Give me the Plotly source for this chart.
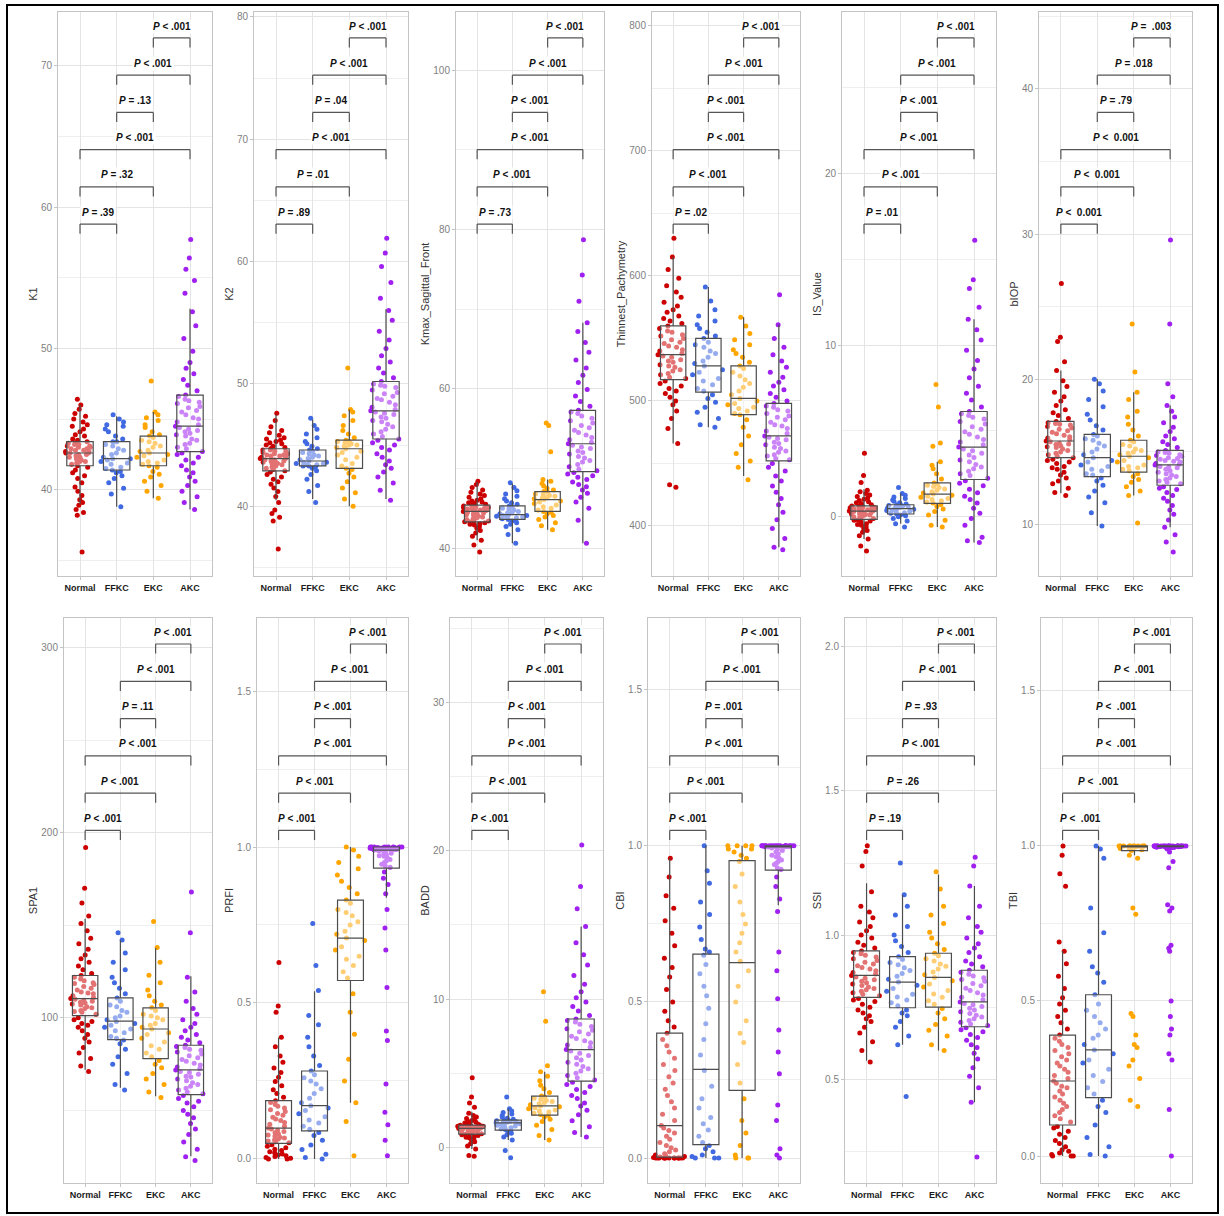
import plotly.graph_objects as go

CATS = ["Normal", "FFKC", "EKC", "AKC"]
COLORS = ["#CD0000", "#4169E1", "#FFA500", "#A020F0"]
TITLES = ["K1", "K2", "Kmax_Sagittal_Front", "Thinnest_Pachymetry", "IS_Value", "bIOP",
          "SPA1", "PRFI", "BADD", "CBI", "SSI", "TBI"]

# ---------------- K1 ----------------
k1_normal = [35.6, 38.2, 38.4, 38.6, 38.9, 39.1, 39.3, 39.6, 39.9, 40.2, 40.5, 40.8, 41.0, 41.2, 41.4, 41.6,
             41.7, 41.8, 41.9, 42.0, 42.0, 42.1, 42.2, 42.3, 42.3, 42.4, 42.5, 42.5, 42.6, 42.6, 42.6,
             42.7, 42.7, 42.8, 42.8, 42.9, 42.9, 43.0, 43.0, 43.1, 43.1, 43.2, 43.2, 43.3, 43.3, 43.4,
             43.5, 43.6, 43.8, 43.9, 44.1, 44.3, 44.5, 44.6, 44.8, 45.0, 45.2, 45.4, 45.7, 46.0, 46.4]
k1_ffkc = [38.8, 39.7, 40.1, 40.5, 40.8, 41.0, 41.2, 41.3, 41.4, 41.5, 41.6, 41.8, 41.9, 42.0, 42.1, 42.2, 42.2,
           42.3, 42.5, 42.6, 42.8, 42.9, 43.1, 43.2, 43.4, 43.4, 43.6, 43.8, 44.1, 44.3, 44.6, 44.8, 45.0, 45.3, 44.5]
k1_ekc = [39.4, 39.9, 40.3, 40.6, 40.9, 41.1, 41.3, 41.6, 41.7, 41.8, 41.9, 42.0, 42.1, 42.3, 42.4, 42.5, 42.6,
          42.7, 42.8, 43.0, 43.1, 43.3, 43.4, 43.5, 43.7, 43.8, 43.9, 44.1, 44.4, 44.6, 44.9, 45.1, 45.3, 45.5, 47.7]
k1_akc = [38.6, 39.1, 39.5, 39.9, 40.3, 40.6, 40.9, 41.2, 41.4, 41.7, 41.9, 42.1, 42.3, 42.5, 42.6,
          42.7, 42.9, 43.0, 43.2, 43.3, 43.5, 43.6, 43.8, 43.9, 44.0, 44.1, 44.2, 44.3, 44.4, 44.5,
          44.6, 44.8, 45.0, 45.1, 45.3, 45.5, 45.6, 45.8, 45.9, 46.1, 46.2, 46.3, 46.4, 46.6, 46.7,
          47.0, 47.4, 47.8, 48.2, 48.6, 49.0, 49.8, 50.7, 51.6, 52.6, 53.9, 54.8, 55.6, 56.4, 57.7]
k1_box = [[39.0, 38.8, 39.4, 38.6], [41.7, 41.4, 41.7, 42.7], [42.6, 42.2, 42.6, 44.5],
          [43.4, 43.4, 43.8, 46.7], [46.0, 45.2, 45.5, 52.8]]
k1_p = ["&lt; .001", "&lt; .001", "= .13", "&lt; .001", "= .32", "= .39"]

# ---------------- K2 ----------------
k2_normal = [36.5, 38.8, 39.1, 39.4, 39.7, 40.3, 40.8, 41.2, 41.5, 41.8, 42.0, 42.2, 42.4, 42.6, 42.8,
             42.9, 43.0, 43.1, 43.2, 43.3, 43.4, 43.5, 43.5, 43.6, 43.6, 43.7, 43.7, 43.8, 43.8, 43.9,
             43.9, 44.0, 44.0, 44.1, 44.1, 44.2, 44.2, 44.3, 44.3, 44.4, 44.5, 44.5, 44.6, 44.6, 44.7,
             44.8, 44.9, 45.0, 45.1, 45.2, 45.3, 45.4, 45.5, 45.6, 45.8, 46.0, 46.2, 46.5, 47.0, 47.6]
k2_ffkc = [40.3, 41.2, 41.7, 42.2, 42.6, 42.9, 43.1, 43.2, 43.3, 43.3, 43.4, 43.4, 43.5, 43.5, 43.6, 43.6, 43.7,
           43.8, 43.9, 44.0, 44.1, 44.2, 44.3, 44.4, 44.5, 44.6, 44.7, 44.9, 45.1, 45.3, 45.6, 45.9, 46.3, 46.6, 47.2]
k2_ekc = [40.0, 40.6, 41.1, 41.5, 42.0, 42.4, 42.7, 43.0, 43.1, 43.3, 43.5, 43.8, 44.0, 44.2, 44.4, 44.5, 44.7,
          44.8, 44.9, 45.0, 45.0, 45.1, 45.2, 45.3, 45.3, 45.4, 45.6, 45.9, 46.2, 46.6, 47.0, 47.4, 47.7, 47.9, 51.3]
k2_akc = [40.5, 41.3, 41.9, 42.4, 42.8, 43.1, 43.4, 43.7, 44.0, 44.3, 44.6, 44.8, 45.0, 45.2, 45.4,
          45.5, 45.7, 45.9, 46.1, 46.3, 46.5, 46.7, 46.9, 47.0, 47.2, 47.3, 47.5, 47.6, 47.7, 47.8,
          47.9, 48.1, 48.3, 48.5, 48.7, 48.8, 49.0, 49.2, 49.3, 49.5, 49.7, 49.8, 49.9, 50.0, 50.2,
          50.5, 50.9, 51.3, 51.8, 52.3, 52.9, 53.6, 54.3, 55.2, 56.0, 57.0, 58.3, 59.6, 60.7, 61.9]
k2_box = [[40.5, 40.6, 40.0, 40.6], [42.9, 43.3, 43.1, 45.5], [43.9, 43.7, 44.7, 47.8],
          [44.7, 44.6, 45.4, 50.2], [47.5, 47.1, 47.9, 56.1]]
k2_p = ["&lt; .001", "&lt; .001", "= .04", "&lt; .001", "= .01", "= .89"]

# ---------------- Kmax_Sagittal_Front ----------------
kmax_normal = [39.5, 40.4, 41.0, 41.5, 41.9, 42.2, 42.5, 42.7, 42.9, 43.0, 43.1, 43.2, 43.2, 43.3, 43.3,
               43.4, 43.5, 43.6, 43.7, 43.8, 43.9, 44.0, 44.1, 44.2, 44.3, 44.3, 44.4, 44.5, 44.5, 44.6,
               44.7, 44.7, 44.8, 44.8, 44.9, 44.9, 45.0, 45.0, 45.1, 45.1, 45.2, 45.2, 45.3, 45.3, 45.4,
               45.5, 45.6, 45.7, 45.8, 45.9, 46.0, 46.2, 46.4, 46.6, 46.8, 47.0, 47.3, 47.6, 48.0, 48.4]
kmax_ffkc = [40.6, 41.7, 42.3, 42.7, 43.0, 43.2, 43.4, 43.5, 43.6, 43.7, 43.8, 43.9, 43.9, 44.0, 44.1, 44.1, 44.2,
             44.3, 44.4, 44.5, 44.6, 44.8, 44.9, 45.0, 45.2, 45.3, 45.5, 45.7, 45.9, 46.2, 46.5, 46.8, 47.2, 47.6, 48.2]
kmax_ekc = [42.3, 42.8, 43.2, 43.6, 43.9, 44.1, 44.3, 44.5, 44.6, 44.8, 45.0, 45.2, 45.4, 45.6, 45.8, 45.9, 46.1,
            46.2, 46.3, 46.4, 46.5, 46.6, 46.7, 46.8, 47.0, 47.1, 47.3, 47.5, 47.8, 48.1, 48.4, 48.6, 52.1, 55.4, 55.7]
kmax_akc = [40.6, 43.5, 45.0, 45.8, 46.4, 46.9, 47.3, 47.7, 48.0, 48.3, 48.6, 48.9, 49.1, 49.3, 49.5,
            49.7, 49.9, 50.2, 50.5, 50.8, 51.0, 51.3, 51.5, 51.8, 52.0, 52.2, 52.5, 52.7, 52.9, 53.1,
            53.3, 53.6, 53.9, 54.2, 54.5, 54.8, 55.1, 55.4, 55.7, 56.0, 56.3, 56.6, 56.9, 57.1, 57.3,
            57.8, 58.4, 59.1, 59.9, 60.8, 61.7, 62.6, 63.6, 64.6, 65.8, 67.2, 68.3, 71.0, 74.3, 78.7]
kmax_box = [[41.0, 40.6, 42.3, 40.6], [43.3, 43.6, 44.6, 49.6], [44.6, 44.2, 46.1, 53.1],
            [45.4, 45.3, 47.1, 57.3], [48.3, 48.1, 48.6, 68.3]]
kmax_p = ["&lt; .001", "&lt; .001", "&lt; .001", "&lt; .001", "&lt; .001", "= .73"]

# ---------------- Thinnest_Pachymetry ----------------
thin_normal = [431, 433, 466, 478, 486, 492, 497, 500, 503, 506, 508, 510, 512, 514, 516,
               518, 519, 521, 522, 524, 525, 527, 528, 529, 531, 532, 533, 535, 536, 537,
               538, 540, 541, 543, 544, 546, 547, 549, 550, 552, 553, 555, 556, 558, 560,
               562, 564, 566, 568, 571, 573, 576, 579, 583, 587, 592, 598, 605, 615, 630]
thin_ffkc = [479, 481, 486, 491, 495, 499, 502, 505, 508, 510, 513, 516, 518, 521, 523, 525, 528,
             530, 532, 535, 538, 540, 543, 545, 547, 550, 552, 555, 558, 561, 564, 568, 573, 580, 591]
thin_ekc = [437, 447, 452, 458, 465, 472, 479, 485, 489, 490, 492, 494, 495, 497, 498, 500, 502,
            505, 508, 511, 514, 517, 520, 523, 526, 528, 531, 535, 538, 541, 545, 549, 554, 560, 567]
thin_akc = [381, 383, 390, 398, 405, 411, 417, 422, 427, 432, 436, 440, 444, 447, 450,
            453, 454, 456, 457, 459, 460, 462, 463, 465, 466, 467, 469, 470, 471, 472,
            474, 476, 478, 480, 481, 483, 485, 487, 488, 490, 492, 493, 495, 496, 498,
            500, 503, 506, 509, 512, 515, 519, 523, 527, 532, 537, 543, 550, 561, 585]
thin_box = [[466, 479, 440, 383], [517, 507, 489, 452], [537, 528, 502, 472],
            [560, 550, 528, 498], [615, 591, 567, 561]]
thin_p = ["&lt; .001", "&lt; .001", "&lt; .001", "&lt; .001", "&lt; .001", "= .02"]

# ---------------- IS_Value ----------------
is_normal = [-2.0, -1.7, -1.3, -1.1, -0.9, -0.8, -0.7, -0.6, -0.5, -0.45, -0.4, -0.3, -0.25, -0.2, -0.17,
             -0.1, -0.05, 0.0, 0.05, 0.08, 0.1, 0.13, 0.15, 0.18, 0.2, 0.23, 0.25, 0.28, 0.3, 0.33,
             0.35, 0.37, 0.39, 0.41, 0.43, 0.45, 0.47, 0.49, 0.51, 0.53, 0.55, 0.57, 0.59, 0.62, 0.64,
             0.7, 0.76, 0.82, 0.88, 0.95, 1.02, 1.1, 1.18, 1.27, 1.36, 1.45, 1.55, 2.0, 2.4, 3.7]
is_ffkc = [-0.6, -0.4, -0.25, -0.1, 0.0, 0.06, 0.1, 0.14, 0.17, 0.2, 0.24, 0.28, 0.32, 0.36, 0.4, 0.44, 0.48,
           0.5, 0.53, 0.56, 0.58, 0.61, 0.63, 0.65, 0.68, 0.7, 0.75, 0.82, 0.9, 0.98, 1.06, 1.15, 1.25, 1.35, 1.7]
is_ekc = [-0.6, -0.5, -0.2, 0.1, 0.3, 0.45, 0.6, 0.72, 0.8, 0.86, 0.93, 1.0, 1.06, 1.13, 1.2, 1.26, 1.32,
          1.38, 1.46, 1.54, 1.62, 1.7, 1.77, 1.84, 1.9, 1.97, 2.2, 2.5, 2.8, 3.0, 3.2, 4.1, 4.3, 6.4, 7.7]
is_akc = [-1.5, -1.4, -1.2, -0.5, -0.1, 0.2, 0.5, 0.8, 1.0, 1.2, 1.4, 1.6, 1.8, 1.95, 2.1,
          2.25, 2.4, 2.5, 2.65, 2.8, 2.9, 3.05, 3.2, 3.3, 3.45, 3.6, 3.7, 3.85, 3.95, 4.06,
          4.2, 4.35, 4.5, 4.65, 4.8, 4.95, 5.1, 5.25, 5.4, 5.55, 5.7, 5.8, 5.9, 6.0, 6.13,
          6.4, 6.8, 7.2, 7.6, 8.1, 8.6, 9.1, 9.7, 10.3, 10.9, 11.5, 12.2, 13.3, 13.8, 16.1]
is_box = [[-1.3, -0.4, -0.6, -1.5], [-0.15, 0.16, 0.78, 2.17], [0.33, 0.48, 1.32, 4.06],
          [0.64, 0.7, 1.97, 6.13], [1.6, 1.35, 3.2, 11.5]]
is_p = ["&lt; .001", "&lt; .001", "&lt; .001", "&lt; .001", "&lt; .001", "= .01"]

# ---------------- bIOP ----------------
biop_normal = [12.0, 12.2, 12.5, 12.8, 13.0, 13.2, 13.4, 13.6, 13.8, 13.9, 14.0, 14.2, 14.3, 14.4, 14.5,
               14.6, 14.7, 14.8, 14.9, 15.0, 15.1, 15.2, 15.3, 15.35, 15.4, 15.5, 15.55, 15.6, 15.7, 15.75,
               15.85, 15.95, 16.05, 16.15, 16.25, 16.35, 16.45, 16.55, 16.65, 16.75, 16.85, 16.9, 16.95, 17.0, 17.1,
               17.3, 17.5, 17.7, 17.9, 18.2, 18.5, 18.8, 19.1, 19.5, 19.9, 20.6, 21.2, 22.6, 22.9, 26.6]
biop_ffkc = [9.9, 10.8, 11.5, 11.9, 12.3, 12.7, 13.0, 13.2, 13.4, 13.5, 13.7, 13.8, 14.0, 14.1, 14.3, 14.4, 14.6,
             14.8, 15.0, 15.2, 15.4, 15.6, 15.8, 15.9, 16.1, 16.2, 16.5, 16.8, 17.2, 17.6, 18.1, 18.6, 19.2, 19.7, 20.0]
biop_ekc = [10.1, 12.0, 12.3, 12.6, 12.9, 13.1, 13.3, 13.5, 13.7, 13.8, 13.9, 14.0, 14.1, 14.3, 14.4, 14.6, 14.7,
            14.8, 14.9, 15.0, 15.1, 15.2, 15.4, 15.5, 15.7, 15.8, 16.1, 16.5, 16.9, 17.4, 17.8, 18.6, 19.1, 20.5, 23.8]
biop_akc = [8.1, 8.8, 9.3, 9.8, 10.3, 10.7, 11.0, 11.3, 11.6, 11.8, 12.0, 12.2, 12.4, 12.5, 12.6,
            12.8, 12.9, 13.0, 13.1, 13.2, 13.3, 13.4, 13.5, 13.6, 13.7, 13.8, 13.9, 13.95, 14.0, 14.1,
            14.15, 14.2, 14.3, 14.35, 14.4, 14.5, 14.55, 14.6, 14.7, 14.75, 14.8, 14.9, 14.95, 15.0, 15.1,
            15.3, 15.5, 15.7, 15.9, 16.1, 16.4, 16.7, 17.0, 17.4, 17.8, 18.2, 18.8, 19.7, 23.8, 29.6]
biop_box = [[12.15, 9.9, 12.0, 9.8], [14.6, 13.3, 13.6, 12.7], [15.75, 14.6, 14.7, 14.1],
            [17.1, 16.2, 15.8, 15.1], [20.6, 20.0, 19.1, 18.2]]
biop_p = ["=&nbsp; .003", "= .018", "= .79", "&lt;&nbsp; 0.001", "&lt;&nbsp; 0.001", "&lt;&nbsp; 0.001"]

# ---------------- SPA1 ----------------
spa1_normal = [71, 74, 78, 81, 84, 87, 89, 91, 93, 95, 96, 97, 98, 99, 100,
               102, 103, 103.5, 104, 105, 105.5, 106, 107, 107.5, 108, 108.5, 109, 109.5, 110, 110.4,
               111, 112, 113, 113.5, 114, 115, 116, 117, 118, 118.5, 119, 120, 121, 122, 122.9,
               124, 126, 128, 130, 132, 134, 137, 140, 143, 147, 151, 155, 162, 170, 192]
spa1_ffkc = [61, 64, 70, 75, 79, 83, 86, 88, 89, 90, 92, 93, 94, 95, 96, 97, 98,
             99, 100, 101, 103, 104, 106, 107, 109, 110.8, 113, 116, 119, 122, 126, 130, 135, 142, 146]
spa1_ekc = [57, 60, 64, 67, 70, 73, 75, 77, 79, 81, 83, 85, 87, 89, 91, 92, 94,
            95, 96, 97, 99, 100, 101, 102, 104, 105.4, 107, 109, 112, 115, 119, 123, 130, 138, 152]
spa1_akc = [23, 25, 29, 33, 37, 40, 43, 46, 48, 50, 52, 54, 55, 56.5, 58,
            59, 60, 61, 62, 63, 64, 65, 66, 67, 68, 68.5, 69.5, 70.5, 71, 71.9,
            72.5, 73.5, 74.5, 75.5, 76.5, 77.5, 78.5, 79.5, 80.5, 81.5, 82.5, 83, 84, 84.5, 85.2,
            86.5, 88, 89.5, 91, 93, 95, 97, 99, 102, 105, 109, 114, 122, 146, 168]
spa1_box = [[72, 62.2, 57.6, 25.2], [101.2, 88.3, 78, 58.5], [110.4, 98.2, 94, 71.9],
            [122.9, 110.8, 105.4, 85.2], [153.5, 142, 137.8, 122.5]]
spa1_p = ["&lt; .001", "&lt; .001", "= .11", "&lt; .001", "&lt; .001", "&lt; .001"]

# ---------------- PRFI ----------------
prfi_normal = [0.0, 0.0, 0.002, 0.005, 0.008, 0.01, 0.013, 0.016, 0.02, 0.023, 0.027, 0.031, 0.036, 0.041, 0.046,
               0.052, 0.055, 0.058, 0.061, 0.064, 0.067, 0.07, 0.073, 0.077, 0.08, 0.084, 0.088, 0.092, 0.096, 0.099,
               0.105, 0.111, 0.117, 0.123, 0.128, 0.134, 0.14, 0.146, 0.152, 0.158, 0.163, 0.169, 0.175, 0.181, 0.187,
               0.198, 0.21, 0.222, 0.235, 0.248, 0.262, 0.277, 0.292, 0.31, 0.33, 0.36, 0.39, 0.47, 0.49, 0.63]
prfi_ffkc = [0.0, 0.005, 0.015, 0.03, 0.045, 0.06, 0.075, 0.085, 0.095, 0.105, 0.115, 0.125, 0.135, 0.145, 0.155, 0.163, 0.171,
             0.18, 0.195, 0.21, 0.225, 0.24, 0.25, 0.26, 0.27, 0.282, 0.3, 0.33, 0.36, 0.39, 0.43, 0.46, 0.54, 0.62, 0.755]
prfi_ekc = [0.01, 0.12, 0.18, 0.25, 0.32, 0.4, 0.47, 0.53, 0.58, 0.6, 0.62, 0.64, 0.65, 0.67, 0.68, 0.7, 0.708,
            0.72, 0.73, 0.75, 0.76, 0.78, 0.79, 0.8, 0.82, 0.83, 0.85, 0.87, 0.89, 0.91, 0.93, 0.95, 0.97, 0.99, 1.0]
prfi_akc = [0.01, 0.06, 0.11, 0.15, 0.24, 0.38, 0.41, 0.55, 0.67, 0.74, 0.8, 0.85, 0.88, 0.9, 0.92,
            0.935, 0.94, 0.945, 0.95, 0.955, 0.96, 0.965, 0.97, 0.972, 0.975, 0.978, 0.98, 0.984, 0.987, 0.99,
            0.991, 0.992, 0.993, 0.994, 0.995, 0.996, 0.997, 0.998, 0.999, 1.0, 0.991, 0.992, 0.993, 0.994, 0.995,
            0.996, 0.997, 0.998, 0.999, 1.0, 0.992, 0.994, 0.996, 0.998, 1.0, 1.0, 1.0, 1.0, 1.0, 1.0]
prfi_box = [[0.0, 0.0, 0.18, 0.837], [0.05, 0.09, 0.572, 0.932], [0.099, 0.171, 0.708, 0.99],
            [0.187, 0.282, 0.83, 1.0], [0.389, 0.538, 1.0, 1.0]]
prfi_p = ["&lt; .001", "&lt; .001", "&lt; .001", "&lt; .001", "&lt; .001", "&lt; .001"]

# ---------------- BADD ----------------
badd_normal = [-0.6, -0.55, -0.1, 0.1, 0.25, 0.38, 0.48, 0.56, 0.63, 0.68, 0.73, 0.77, 0.81, 0.85, 0.88,
               0.92, 0.95, 0.98, 1.0, 1.03, 1.06, 1.08, 1.11, 1.13, 1.16, 1.18, 1.21, 1.23, 1.26, 1.28,
               1.3, 1.31, 1.33, 1.34, 1.36, 1.37, 1.39, 1.4, 1.42, 1.43, 1.45, 1.46, 1.47, 1.49, 1.5,
               1.55, 1.6, 1.65, 1.7, 1.76, 1.82, 1.88, 1.95, 2.05, 2.15, 2.3, 2.7, 3.0, 3.4, 4.7]
badd_ffkc = [-0.7, -0.2, 0.5, 0.7, 0.85, 0.95, 1.05, 1.12, 1.2, 1.26, 1.32, 1.38, 1.44, 1.5, 1.55, 1.6, 1.66,
             1.68, 1.7, 1.72, 1.74, 1.76, 1.78, 1.8, 1.82, 1.84, 1.9, 1.97, 2.05, 2.15, 2.25, 2.35, 2.45, 2.6, 3.4]
badd_ekc = [0.5, 0.8, 1.2, 1.5, 1.75, 1.9, 2.05, 2.15, 2.22, 2.3, 2.38, 2.45, 2.52, 2.6, 2.67, 2.74, 2.8,
            2.88, 2.95, 3.02, 3.1, 3.17, 3.24, 3.31, 3.38, 3.46, 3.7, 3.95, 4.2, 4.5, 4.8, 5.1, 5.5, 8.5, 10.5]
badd_akc = [0.7, 1.0, 1.4, 1.8, 2.2, 2.5, 2.8, 3.0, 3.3, 3.5, 3.7, 3.9, 4.1, 4.25, 4.4,
            4.55, 4.7, 4.85, 5.0, 5.15, 5.3, 5.45, 5.6, 5.75, 5.9, 6.05, 6.2, 6.35, 6.5, 6.6,
            6.75, 6.9, 7.05, 7.2, 7.35, 7.5, 7.65, 7.8, 7.9, 8.0, 8.15, 8.3, 8.45, 8.55, 8.66,
            8.9, 9.2, 9.5, 9.8, 10.1, 10.5, 11.0, 11.6, 12.3, 13.0, 13.8, 14.9, 16.1, 17.6, 20.4]
badd_box = [[-0.1, 0.5, 0.5, 0.7], [0.9, 1.17, 2.18, 4.47], [1.28, 1.66, 2.8, 6.6],
            [1.5, 1.84, 3.46, 8.66], [2.4, 2.6, 5.1, 14.9]]
badd_p = ["&lt; .001", "&lt; .001", "&lt; .001", "&lt; .001", "&lt; .001", "&lt; .001"]

# ---------------- CBI ----------------
cbi_normal = [0.0, 0.0, 0.0, 0.0, 0.0, 0.0, 0.0, 0.0, 0.0, 0.0, 0.0, 0.0, 0.0, 0.002, 0.003,
              0.005, 0.008, 0.01, 0.014, 0.02, 0.026, 0.033, 0.04, 0.05, 0.06, 0.07, 0.08, 0.088, 0.096, 0.104,
              0.12, 0.14, 0.16, 0.18, 0.2, 0.22, 0.24, 0.26, 0.28, 0.3, 0.32, 0.34, 0.36, 0.38, 0.4,
              0.42, 0.44, 0.47, 0.5, 0.54, 0.58, 0.61, 0.64, 0.68, 0.72, 0.76, 0.8, 0.84, 0.9, 0.96]
cbi_ffkc = [0.0, 0.0, 0.0, 0.005, 0.01, 0.02, 0.03, 0.04, 0.05, 0.07, 0.09, 0.11, 0.13, 0.16, 0.19, 0.23, 0.28,
            0.33, 0.38, 0.43, 0.48, 0.52, 0.55, 0.59, 0.62, 0.65, 0.66, 0.67, 0.7, 0.74, 0.78, 0.82, 0.88, 0.92, 1.0]
cbi_ekc = [0.0, 0.0, 0.0, 0.01, 0.04, 0.08, 0.12, 0.19, 0.24, 0.3, 0.37, 0.4, 0.44, 0.5, 0.55, 0.6, 0.63,
           0.66, 0.69, 0.72, 0.75, 0.78, 0.82, 0.87, 0.91, 0.95, 0.96, 0.97, 0.98, 0.99, 0.99, 1.0, 1.0, 1.0, 1.0]
cbi_akc = [0.0, 0.01, 0.03, 0.12, 0.17, 0.27, 0.34, 0.41, 0.51, 0.6, 0.66, 0.79, 0.83, 0.87, 0.9,
           0.925, 0.93, 0.94, 0.945, 0.95, 0.955, 0.96, 0.965, 0.97, 0.975, 0.98, 0.985, 0.99, 0.993, 0.996,
           0.997, 0.998, 0.999, 1.0, 0.997, 0.998, 0.999, 1.0, 0.997, 0.998, 0.999, 1.0, 0.998, 0.999, 1.0,
           0.998, 0.999, 1.0, 1.0, 1.0, 1.0, 1.0, 1.0, 1.0, 1.0, 1.0, 1.0, 1.0, 1.0, 1.0]
cbi_box = [[0.0, 0.0, 0.0, 0.81], [0.003, 0.043, 0.217, 0.922], [0.104, 0.284, 0.626, 0.998],
           [0.4, 0.653, 0.953, 1.0], [0.96, 1.0, 1.0, 1.0]]
cbi_p = ["&lt; .001", "&lt; .001", "= .001", "&lt; .001", "&lt; .001", "&lt; .001"]

# ---------------- SSI ----------------
ssi_normal = [0.56, 0.6, 0.63, 0.66, 0.68, 0.7, 0.71, 0.72, 0.73, 0.74, 0.75, 0.76, 0.77, 0.775, 0.78,
              0.79, 0.795, 0.8, 0.805, 0.81, 0.815, 0.82, 0.825, 0.83, 0.835, 0.84, 0.845, 0.85, 0.855, 0.86,
              0.865, 0.87, 0.876, 0.882, 0.888, 0.894, 0.9, 0.906, 0.912, 0.918, 0.924, 0.93, 0.935, 0.94, 0.945,
              0.955, 0.965, 0.975, 0.99, 1.0, 1.015, 1.03, 1.045, 1.06, 1.08, 1.1, 1.15, 1.24, 1.29, 1.31]
ssi_ffkc = [0.44, 0.62, 0.65, 0.68, 0.7, 0.72, 0.73, 0.74, 0.755, 0.765, 0.775, 0.785, 0.795, 0.805, 0.815, 0.826, 0.837,
            0.847, 0.857, 0.867, 0.877, 0.887, 0.897, 0.905, 0.915, 0.925, 0.94, 0.96, 0.98, 1.0, 1.03, 1.07, 1.1, 1.14, 1.25]
ssi_ekc = [0.6, 0.62, 0.65, 0.67, 0.69, 0.71, 0.73, 0.745, 0.76, 0.772, 0.784, 0.796, 0.808, 0.82, 0.83, 0.842, 0.853,
           0.862, 0.872, 0.882, 0.892, 0.9, 0.91, 0.918, 0.928, 0.937, 0.95, 0.97, 0.99, 1.01, 1.04, 1.07, 1.1, 1.16, 1.22]
ssi_akc = [0.23, 0.42, 0.47, 0.51, 0.54, 0.57, 0.59, 0.61, 0.62, 0.635, 0.645, 0.655, 0.665, 0.672, 0.679,
           0.686, 0.692, 0.698, 0.704, 0.71, 0.716, 0.722, 0.728, 0.734, 0.74, 0.746, 0.752, 0.758, 0.763, 0.768,
           0.776, 0.784, 0.792, 0.8, 0.808, 0.816, 0.824, 0.832, 0.84, 0.846, 0.852, 0.858, 0.864, 0.871, 0.878,
           0.89, 0.9, 0.91, 0.925, 0.94, 0.955, 0.97, 0.99, 1.01, 1.03, 1.06, 1.1, 1.17, 1.24, 1.27]
ssi_box = [[0.564, 0.62, 0.6, 0.42], [0.784, 0.748, 0.75, 0.682], [0.86, 0.837, 0.853, 0.768],
           [0.945, 0.925, 0.937, 0.878], [1.18, 1.14, 1.21, 1.17]]
ssi_p = ["&lt; .001", "&lt; .001", "= .93", "&lt; .001", "= .26", "= .19"]

# ---------------- TBI ----------------
tbi_normal = [0.0, 0.0, 0.0, 0.005, 0.01, 0.015, 0.02, 0.03, 0.04, 0.05, 0.06, 0.07, 0.08, 0.09, 0.095,
              0.11, 0.12, 0.13, 0.14, 0.15, 0.16, 0.17, 0.18, 0.19, 0.2, 0.21, 0.22, 0.225, 0.235, 0.242,
              0.25, 0.26, 0.27, 0.28, 0.29, 0.3, 0.31, 0.32, 0.33, 0.34, 0.35, 0.36, 0.37, 0.38, 0.39,
              0.41, 0.43, 0.45, 0.47, 0.49, 0.51, 0.54, 0.58, 0.62, 0.66, 0.69, 0.87, 0.91, 0.97, 1.0]
tbi_ffkc = [0.0, 0.005, 0.03, 0.06, 0.1, 0.14, 0.16, 0.18, 0.2, 0.22, 0.24, 0.26, 0.28, 0.3, 0.31, 0.33, 0.342,
            0.36, 0.38, 0.39, 0.41, 0.43, 0.45, 0.47, 0.49, 0.52, 0.56, 0.59, 0.61, 0.66, 0.72, 0.8, 0.96, 0.99, 1.0]
tbi_ekc = [0.16, 0.18, 0.25, 0.29, 0.31, 0.35, 0.36, 0.39, 0.45, 0.46, 0.78, 0.8, 0.96, 0.97,
           0.985, 0.988, 0.99, 0.992, 0.994, 0.995, 0.996, 0.997, 0.998, 0.999, 1.0,
           1.0, 1.0, 1.0, 1.0, 1.0, 1.0, 1.0, 1.0, 1.0, 1.0]
tbi_akc = [0.0, 0.15, 0.31, 0.33, 0.39, 0.41, 0.45, 0.5, 0.66, 0.67, 0.68, 0.79, 0.8, 0.81, 0.93, 0.95, 0.98,
           0.99, 0.992, 0.994, 0.995, 0.996, 0.997, 0.998, 0.999, 1.0, 0.995, 0.996, 0.997, 0.998, 0.999, 1.0,
           0.997, 0.998, 0.999, 1.0, 0.998, 0.999, 1.0, 0.999, 1.0, 1.0, 1.0, 1.0, 1.0, 1.0, 1.0, 1.0,
           1.0, 1.0, 1.0, 1.0, 1.0, 1.0, 1.0, 1.0, 1.0, 1.0, 1.0, 1.0]
tbi_box = [[0.0, 0.0, 0.97, 0.995], [0.10, 0.188, 0.985, 0.998], [0.242, 0.342, 1.0, 1.0],
           [0.39, 0.52, 1.0, 1.0], [0.661, 1.0, 1.0, 1.0]]
tbi_p = ["&lt; .001", "&lt;&nbsp; .001", "&lt;&nbsp; .001", "&lt;&nbsp; .001", "&lt;&nbsp; .001", "&lt;&nbsp; .001"]

GROUPS = [
    [k1_normal, k1_ffkc, k1_ekc, k1_akc],
    [k2_normal, k2_ffkc, k2_ekc, k2_akc],
    [kmax_normal, kmax_ffkc, kmax_ekc, kmax_akc],
    [thin_normal, thin_ffkc, thin_ekc, thin_akc],
    [is_normal, is_ffkc, is_ekc, is_akc],
    [biop_normal, biop_ffkc, biop_ekc, biop_akc],
    [spa1_normal, spa1_ffkc, spa1_ekc, spa1_akc],
    [prfi_normal, prfi_ffkc, prfi_ekc, prfi_akc],
    [badd_normal, badd_ffkc, badd_ekc, badd_akc],
    [cbi_normal, cbi_ffkc, cbi_ekc, cbi_akc],
    [ssi_normal, ssi_ffkc, ssi_ekc, ssi_akc],
    [tbi_normal, tbi_ffkc, tbi_ekc, tbi_akc],
]
BOXES = [k1_box, k2_box, kmax_box, thin_box, is_box, biop_box,
         spa1_box, prfi_box, badd_box, cbi_box, ssi_box, tbi_box]
PVALS = [k1_p, k2_p, kmax_p, thin_p, is_p, biop_p, spa1_p, prfi_p, badd_p, cbi_p, ssi_p, tbi_p]
# comparison pairs (category indices), top bracket first
PAIRS = [(2, 3), (1, 3), (1, 2), (0, 3), (0, 2), (0, 1)]

# ---------------- layout settings ----------------
W, H = 1224, 1216
X_PX = [(58, 212), (254, 408), (456, 604), (652, 800), (842, 996), (1039, 1192),
        (64, 212), (257, 408), (450, 603), (648, 800), (845, 996), (1041, 1192)]
Y_PX = [(12, 576)] * 6 + [(618, 1183)] * 6
Y_RANGES = [[33.9, 73.8], [34.3, 80.4], [36.5, 107.3], [360, 811], [-3.45, 29.4], [6.45, 45.3],
            [10.8, 316], [-0.077, 1.734], [-2.4, 35.7], [-0.08, 1.73], [0.14, 2.10], [-0.087, 1.735]]
Y_DTICK = [10, 10, 20, 100, 10, 10, 100, 0.5, 10, 0.5, 0.5, 0.5]
Y_FMT = ["", "", "", "", "", "", "", ".1f", "", ".1f", ".1f", ".1f"]

FONT = "Liberation Sans, Arial, sans-serif"
GRID = "#e4e4e4"
MINOR = "#efefef"
BORDER = "#c4c4c4"

fig = go.Figure()
layout = dict(
    width=W, height=H, margin=dict(l=0, r=0, t=0, b=0),
    paper_bgcolor="white", plot_bgcolor="white",
    showlegend=False, boxmode="overlay", font=dict(family=FONT),
    shapes=[], annotations=[],
)

for i in range(12):
    n = i + 1
    xa = "x" if n == 1 else f"x{n}"
    ya = "y" if n == 1 else f"y{n}"
    xkey = "xaxis" if n == 1 else f"xaxis{n}"
    ykey = "yaxis" if n == 1 else f"yaxis{n}"

    # jittered points
    for g in range(4):
        vals = GROUPS[i][g]
        fig.add_trace(go.Box(
            x=[CATS[g]] * len(vals), y=vals, xaxis=xa, yaxis=ya,
            boxpoints="all", jitter=1, pointpos=0, width=0.92,
            fillcolor="rgba(0,0,0,0)", line=dict(width=0, color="rgba(0,0,0,0)"),
            marker=dict(color=COLORS[g], size=5, opacity=1),
            hoverinfo="skip",
        ))
    # box summary on top
    lo, q1, med, q3, hi = BOXES[i]
    fig.add_trace(go.Box(
        x=CATS, q1=q1, median=med, q3=q3, lowerfence=lo, upperfence=hi,
        xaxis=xa, yaxis=ya, boxpoints=False, width=0.72, whiskerwidth=0,
        fillcolor="rgba(255,255,255,0.45)", line=dict(color="#4d4d4d", width=1.2),
        hoverinfo="skip",
    ))

    x0, x1 = X_PX[i]
    yt, yb = Y_PX[i]
    layout[xkey] = dict(
        domain=[x0 / W, x1 / W], anchor=ya, type="category",
        categoryorder="array", categoryarray=CATS, range=[-0.6, 3.6],
        showgrid=True, gridcolor=GRID, gridwidth=1,
        showline=True, mirror=True, linecolor=BORDER, linewidth=1,
        ticks="outside", ticklen=3, tickcolor=BORDER,
        tickfont=dict(family=FONT, size=9, color="#1a1a1a", weight="bold"),
        zeroline=False, fixedrange=True,
    )
    dt = Y_DTICK[i]
    layout[ykey] = dict(
        domain=[1 - yb / H, 1 - yt / H], anchor=xa, range=Y_RANGES[i],
        tick0=0, dtick=dt, tickformat=Y_FMT[i],
        showgrid=True, gridcolor=GRID, gridwidth=1,
        minor=dict(dtick=dt / 2, tick0=0, showgrid=True, gridcolor=MINOR, gridwidth=1, ticks=""),
        showline=True, mirror=True, linecolor=BORDER, linewidth=1,
        ticks="outside", ticklen=3, tickcolor=BORDER,
        tickfont=dict(family=FONT, size=10, color="#7f7f7f"),
        title=dict(text=TITLES[i], font=dict(family=FONT, size=11, color="#333333"), standoff=1),
        zeroline=False, fixedrange=True,
    )

    # significance brackets
    for k, (a, b) in enumerate(PAIRS):
        f = 0.954 - 0.066 * k
        yref = f"{ya} domain"
        common = dict(type="line", xref=xa, yref=yref, line=dict(color="#555555", width=1.2))
        layout["shapes"] += [
            dict(x0=a, x1=b, y0=f, y1=f, **common),
            dict(x0=a, x1=a, y0=f, y1=f - 0.017, **common),
            dict(x0=b, x1=b, y0=f, y1=f - 0.017, **common),
        ]
        layout["annotations"].append(dict(
            x=(a + b) / 2, y=f + 0.021, xref=xa, yref=yref, showarrow=False,
            text=f"<b><i>P</i> {PVALS[i][k]}</b>", bgcolor="white", borderpad=1,
            font=dict(family=FONT, size=10, color="#111111"), xanchor="center", yanchor="middle",
        ))

# outer frame
layout["shapes"].append(dict(type="rect", xref="paper", yref="paper",
                             x0=7 / W, x1=1218 / W, y0=1 - 1213 / H, y1=1 - 5 / H,
                             line=dict(color="black", width=2), fillcolor="rgba(0,0,0,0)"))

fig.update_layout(**layout)
fig.write_html("out.html", config={"displayModeBar": False},
               post_script="document.body.style.margin='0';")
